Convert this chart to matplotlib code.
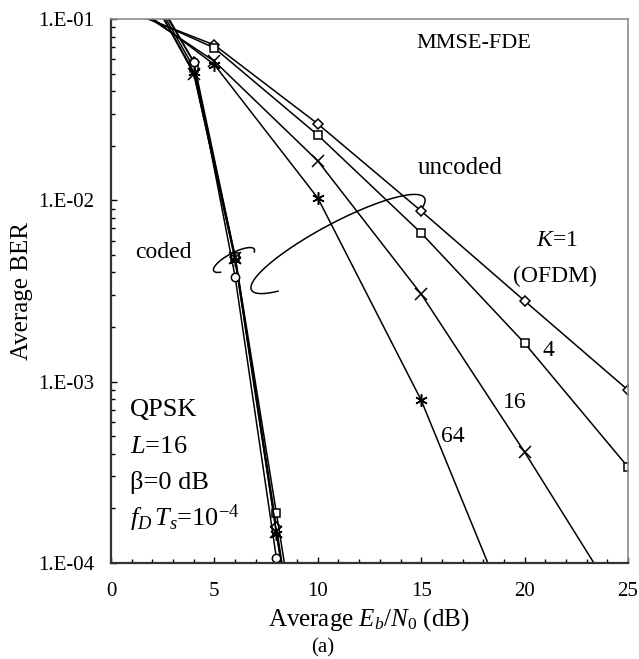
import numpy as np
import matplotlib
matplotlib.use('Agg')
import matplotlib.pyplot as plt
import matplotlib.transforms as mtransforms
from matplotlib.ticker import FixedLocator, LogLocator, NullFormatter, FuncFormatter

plt.rcParams['font.family'] = ['Liberation Serif', 'DejaVu Serif']
plt.rcParams['mathtext.fontset'] = 'custom'
plt.rcParams['mathtext.rm'] = 'Liberation Serif'
plt.rcParams['mathtext.it'] = 'Liberation Serif:italic'

#===========================================
# uncoded curves (0 dB points sit above the plot top)
snr_unc = [0, 5, 10, 15, 20, 25]
ber_unc_k1 = [0.12, 0.0719, 0.0264, 0.00873, 0.00279, 0.000899]
ber_unc_k4 = [0.125, 0.0692, 0.0229, 0.0066, 0.00163, 0.000338]
ber_unc_k16 = [0.14, 0.0585, 0.0165, 0.00304, 0.000409, 0.00005]
ber_unc_k64 = [0.15, 0.056, 0.0103, 0.00079, 0.000032, 0.000001]

# coded curves
snr_cod = [0, 2, 4, 6, 8, 10]
ber_cod_k1 = [0.2, 0.14, 0.058, 0.0049, 0.000158, 0.000005]
ber_cod_k4 = [0.2, 0.135, 0.054, 0.0049, 0.000188, 0.000007]
ber_cod_k16 = [0.2, 0.13, 0.050, 0.0048, 0.000148, 0.000005]
ber_cod_k64 = [0.2, 0.13, 0.051, 0.0047, 0.000145, 0.000005]
ber_cod_k256 = [0.2, 0.145, 0.058, 0.0038, 0.000106, 0.000003]

y_ticks = [1e-4, 1e-3, 1e-2, 1e-1]
y_tick_labels = ['1.E-04', '1.E-03', '1.E-02', '1.E-01']
x_ticks = [0, 5, 10, 15, 20, 25]

W, H = 639, 659
fig = plt.figure(figsize=(W/100, H/100), dpi=100)
ax = fig.add_axes([111/W, 1-563/H, (628-111)/W, (563-19)/H])

# pixel coords of the picture (y down) -> figure
pix = mtransforms.Affine2D().scale(1/W, -1/H).translate(0, 1) + fig.transFigure

st = dict(color='black', lw=1.1, mfc='white', mec='black', mew=1.1, clip_on=True)
ax.plot(snr_unc, ber_unc_k1, marker='D', ms=5, **st)
ax.plot(snr_unc, ber_unc_k4, marker='s', ms=6, **st)
ax.plot(snr_unc, ber_unc_k16, marker='x', ms=8, **st)
ax.plot(snr_unc, ber_unc_k64, marker=(6, 2, 0), ms=9, **st)

ax.plot(snr_cod, ber_cod_k1, marker='D', ms=5, **st)
ax.plot(snr_cod, ber_cod_k4, marker='s', ms=6, **st)
ax.plot(snr_cod, ber_cod_k16, marker='x', ms=8, **st)
ax.plot(snr_cod, ber_cod_k64, marker=(6, 2, 0), ms=9, **st)
ax.plot(snr_cod, ber_cod_k256, marker='o', ms=6, **st)

ax.set_yscale('log')
ax.set_xlim(0, 25)
ax.set_ylim(1e-4, 1e-1)

ax.yaxis.set_major_locator(FixedLocator(y_ticks))
ax.yaxis.set_major_formatter(FuncFormatter(lambda v, p: y_tick_labels[y_ticks.index(v)] if v in y_ticks else ''))
ax.yaxis.set_minor_locator(LogLocator(base=10, subs=np.arange(2, 10)))
ax.yaxis.set_minor_formatter(NullFormatter())
ax.xaxis.set_major_locator(FixedLocator(x_ticks))
ax.xaxis.set_minor_locator(FixedLocator(np.arange(0, 26)))

ax.tick_params(which='both', direction='in', top=False, right=False, colors='black', width=1.0)
ax.tick_params(which='major', length=4)
ax.tick_params(which='minor', length=3)
ax.tick_params(axis='y', which='major', labelsize=15, pad=12)
ax.tick_params(axis='x', which='major', labelsize=15, pad=14)

for s in ['left', 'bottom']:
    ax.spines[s].set_color('#333333')
    ax.spines[s].set_linewidth(1.6)
for s in ['top', 'right']:
    ax.spines[s].set_color('#8c8c8c')
    ax.spines[s].set_linewidth(1.2)

fig.text(22/W, 1-291/H, 'Average BER', rotation=90, ha='center', va='center', fontsize=18)
fig.text(369/W, 1-620/H, r'Average $E_b/N_{\rm 0}$ (dB)', ha='center', va='center', fontsize=18)
fig.text(323/W, 1-648/H, '(a)', ha='center', va='center', fontsize=15)

# annotations (placed in picture pixels)
def label(x, y, s, size=17, ha='center'):
    ax.text(x, y, s, transform=pix, ha=ha, va='center', fontsize=size)

label(474, 43, 'MMSE-FDE', 16)
label(460, 168, 'uncoded', 18)
label(557, 240, r'$K$=1')
label(555, 276, '(OFDM)')
label(548, 350, '4')
label(515, 402, '16')
label(453, 437, '64')
label(163, 253, 'coded')
label(130, 410, 'QPSK', 19, 'left')
label(130, 447, r'$L$=16', 19, 'left')
label(130, 483, 'β=0 dB', 19, 'left')
label(130, 518, r'$f_D\,T_s$=10$^{-4}$', 19, 'left')

# hand drawn ellipse marks grouping the curves
def ring(cx, cy, a, b, ang):
    t = np.radians(np.linspace(-220, 20, 200))
    u = np.array([np.cos(np.radians(ang)), -np.sin(np.radians(ang))])
    v = np.array([np.sin(np.radians(ang)), np.cos(np.radians(ang))])
    px = cx + a*np.cos(t)*u[0] + b*np.sin(t)*v[0]
    py = cy + a*np.cos(t)*u[1] + b*np.sin(t)*v[1]
    ax.plot(px, py, color='black', lw=1.1, transform=pix, clip_on=False)

ring(338, 244, 98, 21, 28)
ring(234, 260, 23, 7, 28)

fig.savefig('out.png', dpi=100)
